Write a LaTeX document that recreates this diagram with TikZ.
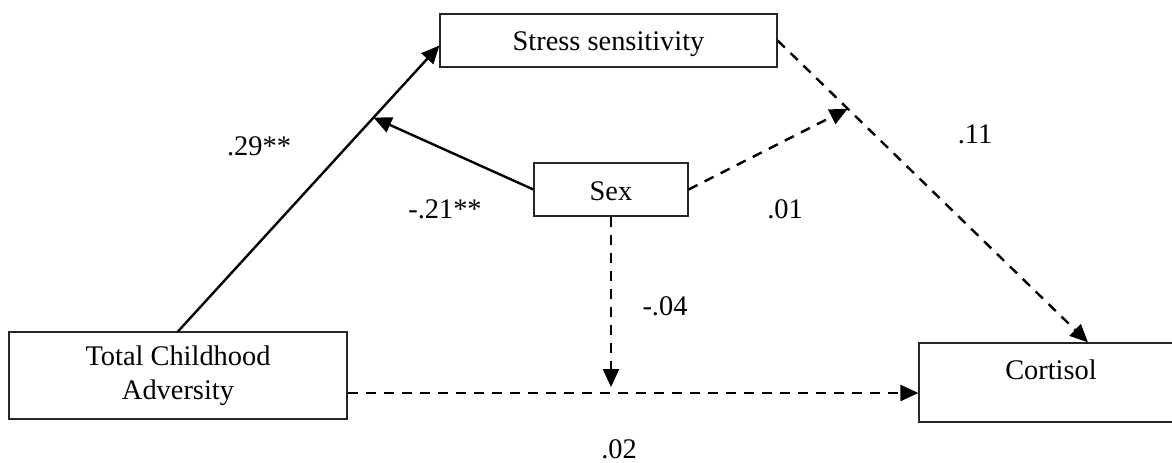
\documentclass[tikz,border=0pt]{standalone}
\usepackage{fontspec}
\setmainfont{Liberation Serif}
\usetikzlibrary{arrows.meta,calc}
\begin{document}
\begin{tikzpicture}[x=0.5pt,y=-0.5pt,
  box/.style={draw=black!85,line width=0.6pt,inner sep=0pt,font=\fontsize{14.2}{17}\selectfont},
  lbl/.style={anchor=base,inner sep=0pt,font=\fontsize{14.2}{17}\selectfont},
  arr/.style={line width=1.2pt,-{Triangle[length=9pt,width=8pt]}},
  dsh/.style={arr,dash pattern=on 5pt off 4pt}]
\useasboundingbox (0,0) rectangle (1172,462);
\node[box,minimum width=168.5pt,text height=18pt,text depth=8.5pt] (stress) at (608.5,40.5) {Stress sensitivity};
\node[box,minimum width=77pt,text height=18.5pt,text depth=8pt] (sex) at (611,189.5) {Sex};
\node[box,minimum width=169pt,minimum height=43.5pt,align=center] (tca) at (178,375.5) {Total Childhood\\Adversity};
\node[box,minimum width=132pt,text height=18pt,text depth=21.5pt] (cort) at (1051,382.5) {Cortisol};
\coordinate (tip1) at ([yshift=-2.5pt]stress.west);
\coordinate (j1) at ($(tca.north)!0.748!(tip1)$);
\coordinate (cortin) at ([xshift=18.5pt]cort.north);
\coordinate (j2) at ($(stress.east)!0.226!(cortin)$);
\coordinate (hline) at (0,393);
\coordinate (j3) at (sex.south |- hline);
\draw[arr] (tca.north) -- (tip1);
\draw[arr] (sex.west) -- (j1);
\draw[dsh] (stress.east) -- (cortin);
\draw[dsh] (sex.east) -- (j2);
\draw[dsh,shorten >=3pt] (sex.south) -- (j3);
\draw[dsh] (tca.east |- j3) -- (cort.west |- j3);
\node[lbl] (l29) at (259,155) {.29**};
\node[lbl] (l21) at (445,218) {-.21**};
\node[lbl] (l11) at (975,143) {.11};
\node[lbl] (l01) at (785,218) {.01};
\node[lbl] (l04) at (665,315) {-.04};
\node[lbl] (l02) at (619,458) {.02};
\end{tikzpicture}
\end{document}
